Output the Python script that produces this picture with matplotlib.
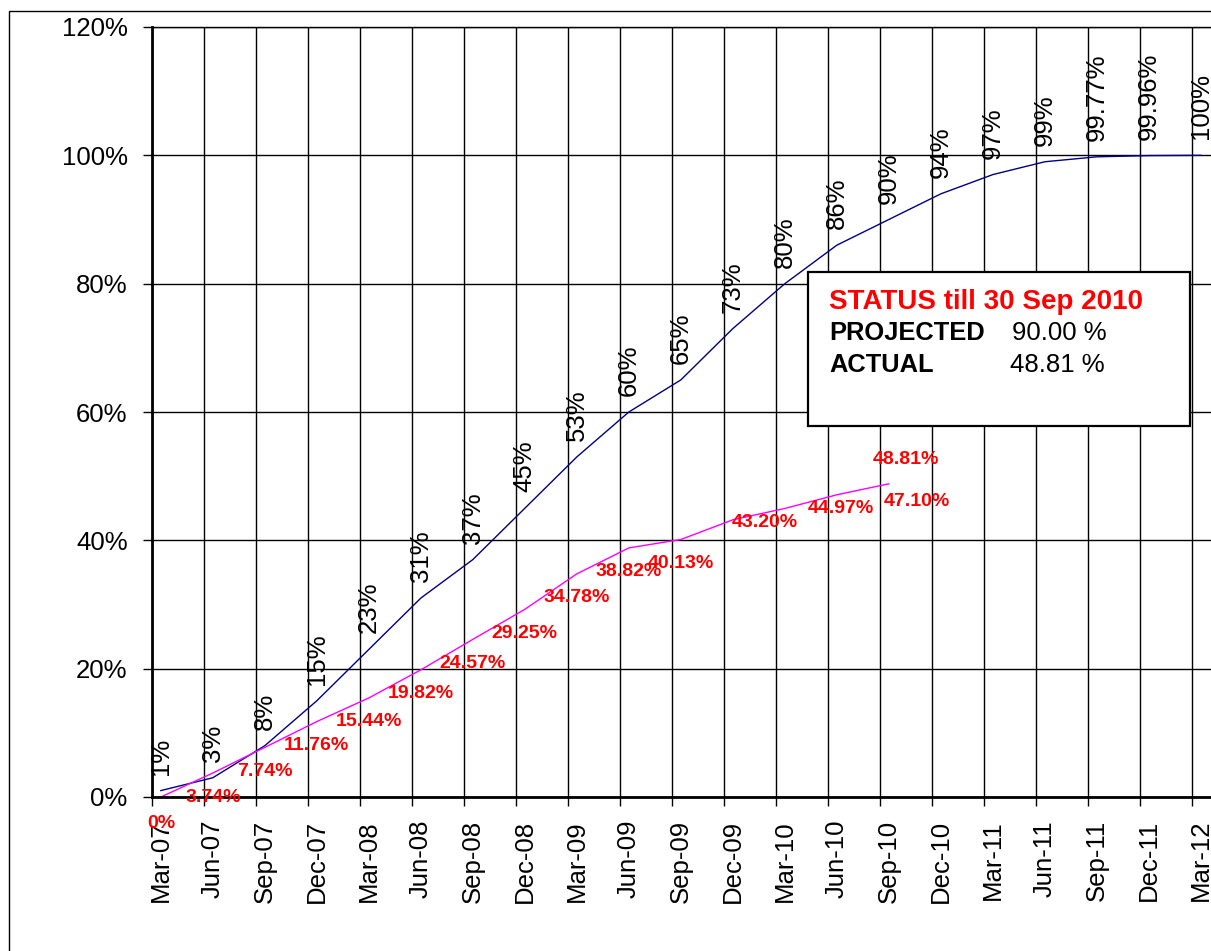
import matplotlib.pyplot as plt
import matplotlib.patches as patches
from matplotlib.ticker import FuncFormatter

plt.rcParams['font.family'] = ['Liberation Sans', 'DejaVu Sans']

# Quarterly progress data
quarters = ['Mar-07', 'Jun-07', 'Sep-07', 'Dec-07', 'Mar-08', 'Jun-08', 'Sep-08',
            'Dec-08', 'Mar-09', 'Jun-09', 'Sep-09', 'Dec-09', 'Mar-10', 'Jun-10',
            'Sep-10', 'Dec-10', 'Mar-11', 'Jun-11', 'Sep-11', 'Dec-11', 'Mar-12']
projected = [1, 3, 8, 15, 23, 31, 37, 45, 53, 60, 65, 73, 80, 86, 90, 94, 97, 99,
             99.77, 99.96, 100]
actual = [0, 3.74, 7.74, 11.76, 15.44, 19.82, 24.57, 29.25, 34.78, 38.82, 40.13,
          43.20, 44.97, 47.10, 48.81]

status_title = 'STATUS till 30 Sep 2010'
status_projected = '90.00 %'
status_actual = '48.81 %'

W, H = 1211, 951
fig = plt.figure(figsize=(W / 100, H / 100), dpi=100)

# plot area in pixels: left 152, top 27, bottom 797, 52 px per quarter
step = 52.0
ax = fig.add_axes([152 / W, (H - 797) / H, 21 * step / W, 770 / H])

shift = 0.17  # points sit a little right of the gridlines
xs_proj = [i + shift for i in range(len(projected))]
xs_act = [i + shift for i in range(len(actual))]

ax.plot(xs_proj, projected, color='#000080', lw=1.0)
ax.plot(xs_act, actual, color='#FF00FF', lw=1.0)

ax.set_xlim(0, 21)
ax.set_ylim(0, 120)

# gridlines / ticks
ax.set_xticks(range(len(quarters)))
ax.set_xticklabels([])
ax.set_xticks([i + shift for i in range(len(quarters))], minor=True)
ax.set_xticklabels(quarters, minor=True, rotation=90, fontsize=18.5, va='top')
ax.tick_params(axis='x', which='major', direction='out', length=6.5, width=1)
ax.tick_params(axis='x', which='minor', length=0, pad=16.5)
ax.set_yticks(range(0, 121, 20))
ax.yaxis.set_major_formatter(FuncFormatter(lambda v, p: f'{v:.0f}%'))
ax.tick_params(axis='y', direction='out', length=6.5, width=1, pad=11, labelsize=18.5)
ax.grid(True, which='major', color='black', lw=1)
ax.set_axisbelow(True)

ax.spines['right'].set_visible(False)
ax.spines['top'].set_linewidth(1)
ax.spines['left'].set_linewidth(2)
ax.spines['bottom'].set_linewidth(2)

# projected labels, rotated above the points
for x, v in zip(xs_proj, projected):
    ax.annotate(f'{v:g}%', (x, v), xytext=(0, 11.5), textcoords='offset points',
                rotation=90, ha='center', va='bottom', fontsize=18.5, color='black')

# actual labels, mostly below the points (offsets in pixels)
label_shift = {0: (0, 26), 11: (32, 3), 12: (56, 0), 13: (80, 7), 14: (17, -24)}
for i, (x, v) in enumerate(zip(xs_act, actual)):
    dx, dy = label_shift.get(i, (0, 24))
    txt = f'{v:.2f}%' if v else '0%'
    ax.annotate(txt, (x, v), xytext=(dx * 0.72, -dy * 0.72), textcoords='offset points',
                ha='center', va='center', fontsize=14, fontweight='bold', color='red',
                annotation_clip=False)

# status box
bx0, bx1, by0, by1 = 808, 1190, 272, 426
fig.patches.append(patches.Rectangle((bx0 / W, 1 - by1 / H), (bx1 - bx0) / W, (by1 - by0) / H,
                                     transform=fig.transFigure, facecolor='white',
                                     edgecolor='black', lw=1.6, zorder=5))
fig.text(829 / W, 1 - 302 / H, status_title, color='red', fontsize=20, fontweight='bold',
         va='center', ha='left', zorder=6)
fig.text(829 / W, 1 - 333 / H, 'PROJECTED', color='black', fontsize=18.4, fontweight='bold',
         va='center', ha='left', zorder=6)
fig.text(1012 / W, 1 - 333 / H, status_projected, color='black', fontsize=18.5,
         va='center', ha='left', zorder=6)
fig.text(829 / W, 1 - 365 / H, 'ACTUAL', color='black', fontsize=18.4, fontweight='bold',
         va='center', ha='left', zorder=6)
fig.text(1010 / W, 1 - 365 / H, status_actual, color='black', fontsize=18.5,
         va='center', ha='left', zorder=6)

# outer chart border (cut off at right and bottom)
fig.patches.append(patches.Rectangle((9 / W, -0.1), 2, 1.1 - 11 / H,
                                     transform=fig.transFigure, fill=False,
                                     edgecolor='black', lw=1))

fig.savefig('out.png', dpi=100)
